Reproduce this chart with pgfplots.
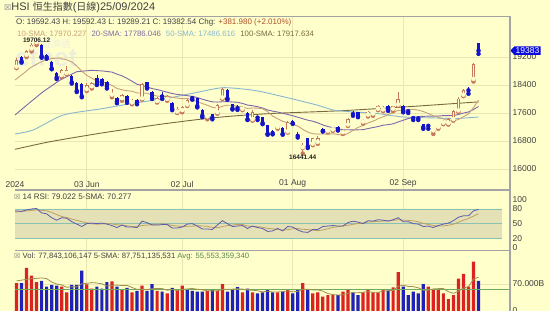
\documentclass[border=0pt]{standalone}
\usepackage{fontspec}
\setmainfont{Liberation Sans}
\newfontfamily\cjk{Noto Sans CJK TC}
\newfontfamily\dejavu{DejaVu Sans}
\usepackage{pgfplots}
\usepackage{pgfplotstable}
\pgfplotsset{compat=1.18}
\usetikzlibrary{shapes.symbols}

\definecolor{bg}{HTML}{FFFFCC}
\definecolor{gridc}{HTML}{EAE6B4}
\definecolor{bordc}{HTML}{A4A4A4}
\definecolor{txt}{HTML}{404040}
\definecolor{upc}{HTML}{C8785A}
\definecolor{dnc}{HTML}{1414C8}
\definecolor{vred}{HTML}{DD2222}
\definecolor{vblue}{HTML}{2020BB}
\definecolor{ma10}{HTML}{C8A07A}
\definecolor{ma20}{HTML}{8066A8}
\definecolor{ma50}{HTML}{88B8D0}
\definecolor{ma100}{HTML}{7A6A40}
\definecolor{chgc}{HTML}{B0502A}
\definecolor{bandc}{HTML}{E4E1B6}
\definecolor{refc}{HTML}{8CC0B0}
\definecolor{rsic}{HTML}{5A5AB0}
\definecolor{rsima}{HTML}{C0A060}
\definecolor{vma}{HTML}{A09050}
\definecolor{avgc}{HTML}{70A860}
\definecolor{tagc}{HTML}{0A0ADC}
\definecolor{wm}{HTML}{EEEEDD}

% i open high low close
\pgfplotstableread{
i o h l c
0 18900 19180 18880 19115
2 19240 19400 19200 19376
3 19420 19590 19360 19554
4 19600 19706.12 19540 19636
9 18660 18850 18620 18827
10 18720 18950 18700 18821
14 18260 18450 18230 18403
15 18340 18500 18300 18444
19 18100 18300 18050 18176
21 18000 18150 17950 18112
23 17880 17990 17850 17936
25 18000 18450 17980 18430
28 17920 18060 17900 18027
30 17980 18120 17950 18089
32 17620 17760 17600 17719
33 17660 17800 17620 17769
34 17820 18000 17800 17978
38 17480 17560 17420 17523
40 17600 17850 17580 17832
41 18020 18320 18000 18293
45 17700 17800 17680 17778
47 17400 17700 17380 17635
52 17180 17260 17150 17238
54 17050 17360 17040 17344
57 16600 16750 16441.44 16698
59 16700 16900 16680 16877
60 16750 16950 16720 16891
62 17070 17150 17050 17112
63 17110 17200 17090 17174
65 17030 17120 17000 17110
66 17250 17450 17230 17430
69 17330 17420 17300 17391
70 17530 17660 17500 17641
71 17560 17630 17520 17612
72 17700 17820 17680 17798
73 17680 17800 17650 17755
75 17700 17800 17650 17786
76 17820 18200 17800 17989
83 17080 17180 17000 17108
84 17180 17260 17150 17240
85 17300 17400 17280 17369
86 17290 17450 17270 17422
87 17400 17680 17380 17660
88 17650 18050 17630 18013
89 18100 18300 18080 18258
91 18550 19020 18500 19000.56
}\upt

\pgfplotstableread{
i o h l c
1 19200 19230 19040 19074
5 19530 19560 19180 19220
6 19260 19300 19150 19195
7 19050 19080 18850 18868
8 18740 18760 18570 18609
11 18650 18700 18440 18477
12 18470 18480 18200 18230
13 18420 18450 18050 18080
16 18600 18700 18400 18425
17 18560 18600 18420 18476
18 18500 18520 18300 18367
20 18030 18060 17880 17937
22 18080 18120 17890 17942
24 17980 18000 17850 17915
26 18480 18500 18300 18335
27 18200 18230 18000 18028
29 18100 18200 18000 18072
31 17900 17920 17680 17716
35 18060 18100 17980 18028
36 18030 18040 17760 17799
37 17700 17720 17480 17524
39 17560 17580 17420 17471
42 18250 18280 17980 18015
43 17850 17870 17700 17727
44 17760 17820 17690 17739
46 17600 17620 17400 17417
48 17500 17520 17400 17469
49 17480 17500 17280 17311
50 17250 17260 16980 17005
51 17080 17120 16990 17021
53 17180 17200 16980 17002
55 17370 17400 17290 17304
56 17000 17050 16900 16946
58 16880 16900 16600 16647
61 17150 17180 17070 17090
64 17200 17220 17100 17113
67 17600 17650 17520 17569
68 17620 17640 17480 17511
74 17800 17820 17660 17692
77 17800 17820 17620 17651
78 17670 17700 17600 17652
79 17470 17520 17400 17457
80 17460 17520 17400 17444
81 17280 17300 17150 17196
82 17250 17280 17150 17234
90 18250 18350 18150 18247
92 19592.43 19592.43 19289.21 19382.54
}\dnt

% volume in billions
\pgfplotstableread{
i v
0 72
2 112
3 92
4 75
9 63
10 48
14 69
15 58
19 77
21 57
23 48
25 66
28 52
30 46
32 57
33 66
38 52
40 52
41 70
45 48
47 48
52 48
54 57
57 72
59 46
60 48
61 37
62 41
63 41
65 50
66 57
69 48
70 57
71 48
72 48
73 57
75 61
76 101
82 63
83 57
84 54
85 46
86 31
87 41
88 84
89 96
90 63
91 128
}\volr

\pgfplotstableread{
i v
1 72
5 78
6 63
7 68
8 66
11 68
12 68
13 105
16 63
17 58
18 75
20 63
22 60
24 52
26 52
27 70
29 50
31 60
34 57
35 52
36 50
37 50
39 57
42 50
43 54
44 62
46 58
48 46
49 48
50 57
51 48
53 50
55 46
56 54
58 54
64 41
67 48
68 41
74 53
77 63
78 41
79 50
80 46
81 70
92 77.84
}\volb

\newcommand{\ticksize}{\fontsize{8.5}{9}\selectfont}
\newcommand{\infosize}{\fontsize{8}{9}\selectfont}

\pgfplotsset{
  candle/.style n args={2}{color=#1, draw=#1, only marks, mark=none,
    error bars/.cd, y dir=plus, y explicit, error mark=none,
    error bar style={draw=#1, color=#1, line width=#2}},
}

\begin{document}
\begin{tikzpicture}
\useasboundingbox (0pt,0pt) rectangle (550pt,-311pt);
\fill[bg] (0pt,0pt) rectangle (550pt,-311pt);
% watermark
\node[anchor=west, inner sep=0pt, text=wm, font={\cjk\fontsize{9.5}{10}\selectfont}] at (42pt,-44pt) {經濟通};
\node[anchor=west, inner sep=0pt, text=wm, font={\bfseries\fontsize{26}{26}\selectfont}] at (15pt,-58pt) {etnet};

% ---------------- main price panel ----------------
\begin{axis}[at={(15pt,-189pt)}, anchor=south west, scale only axis,
  width=495pt, height=173pt,
  xmin=-0.3, xmax=98.27, ymin=15428.6, ymax=20371.4,
  axis line style={draw=none}, major tick length=0pt,
  scaled ticks=false,
  /pgf/number format/assume math mode=true,
  xtick={14,33,55,77}, xticklabels={03 Jun,02 Jul,01 Aug,02 Sep},
  xticklabel style={anchor=south, inner sep=1.5pt, font=\ticksize, text=txt},
  ytick={16000,16800,17600,18400,19200},
  yticklabels={16000,16800,17600,18400,19200},
  yticklabel pos=right,
  yticklabel style={anchor=west, inner sep=2.5pt, font=\ticksize, text=txt},
  grid=major, major grid style={draw=gridc, line width=0.7pt},
  clip mode=individual]

% moving averages
\addplot[ma100, line width=0.9pt, smooth, tension=0.4] coordinates {
(-0.3,16563) (6.67,16780) (16.6,17020) (23.2,17163) (28.6,17277) (36.5,17420)
(43.1,17514) (51.5,17591) (64.8,17666) (78,17780) (92,17918)};
\addplot[ma50, line width=0.9pt, smooth, tension=0.4] coordinates {
(-0.3,17000) (3.3,17114) (9.3,17543) (16.6,17714) (23.2,17877) (30,18020)
(35.1,18163) (41.1,18323) (47.5,18243) (53.1,18066) (59.8,17829) (63,17686)
(66.4,17637) (71.5,17591) (77,17486) (83.7,17457) (87.7,17443) (92,17487)};
\addplot[ma20, line width=0.9pt] coordinates {
(-0.3,17543) (2.5,17880) (5.3,18209) (8.7,18543) (12,18780) (15,18820) (17.2,18800)
(19,18769) (20,18710) (21,18662) (22,18590) (23,18509) (24,18423) (25,18384)
(26,18341) (27,18299) (28,18269) (29,18232) (30,18195) (31,18157) (32,18131)
(33,18116) (34,18095) (35,18074) (36,18043) (37,17995) (38,17953) (39,17918)
(40,17912) (41,17921) (42,17925) (43,17915) (44,17906) (45,17873) (46,17827)
(47,17808) (48,17780) (49,17742) (50,17687) (51,17653) (52,17629) (53,17590)
(54,17559) (55,17522) (56,17480) (57,17438) (58,17395) (59,17365) (60,17318)
(61,17258) (62,17213) (63,17185) (64,17154) (65,17120) (66,17121) (67,17118)
(68,17120) (69,17124) (70,17155) (71,17185) (72,17213) (73,17251) (74,17268)
(75,17292) (76,17344) (77,17392) (78,17442) (79,17471) (80,17499) (81,17504)
(82,17510) (83,17507) (84,17513) (85,17526) (86,17526) (87,17530) (88,17556)
(89,17599) (90,17629) (91,17699) (92,17786)};
\addplot[ma10, line width=0.9pt] coordinates {
(-0.3,18543) (1.3,18720) (2.7,18886) (4.2,19010) (5.7,19114) (7.2,19160) (8.7,19171)
(9,19147) (10,19118) (11,19058) (12,18944) (13,18796) (14,18673) (15,18595)
(16,18518) (17,18479) (18,18455) (19,18390) (20,18302) (21,18265) (22,18236)
(23,18222) (24,18173) (25,18172) (26,18163) (27,18118) (28,18084) (29,18073)
(30,18089) (31,18049) (32,18027) (33,18010) (34,18016) (35,17976) (36,17923)
(37,17872) (38,17822) (39,17762) (40,17736) (41,17794) (42,17823) (43,17819)
(44,17795) (45,17770) (46,17732) (47,17743) (48,17738) (49,17722) (50,17639)
(51,17512) (52,17434) (53,17362) (54,17322) (55,17275) (56,17228) (57,17134)
(58,17052) (59,17008) (60,16997) (61,17004) (62,16991) (63,17008) (64,16985)
(65,16966) (66,17014) (67,17101) (68,17188) (69,17239) (70,17314) (71,17366)
(72,17435) (73,17493) (74,17551) (75,17619) (76,17674) (77,17683) (78,17697)
(79,17703) (80,17684) (81,17642) (82,17586) (83,17521) (84,17476) (85,17434)
(86,17377) (87,17378) (88,17414) (89,17494) (90,17575) (91,17755) (92,17970)};

% up candles (hollow)
\addplot[candle={upc}{0.7pt}]
  table[x=i, y=l, y error plus expr=\thisrow{h}-\thisrow{l}] {\upt};
\addplot[candle={upc}{3.4pt}]
  table[x=i, y=o, y error plus expr={max(\thisrow{c}-\thisrow{o},30)}] {\upt};
\addplot[candle={bg}{1.8pt}]
  table[x=i, y expr=\thisrow{o}+24, y error plus expr={max(\thisrow{c}-\thisrow{o}-48,0)}] {\upt};
% down candles (filled blue)
\addplot[candle={dnc}{0.7pt}]
  table[x=i, y=l, y error plus expr=\thisrow{h}-\thisrow{l}] {\dnt};
\addplot[candle={dnc}{3.4pt}]
  table[x=i, y=c, y error plus expr={max(\thisrow{o}-\thisrow{c},30)}] {\dnt};

% high / low markers
\addplot[only marks, mark=none, nodes near coords, point meta=explicit symbolic,
  nodes near coords style={font=\bfseries\fontsize{6.5}{7}\selectfont, anchor=south,
  yshift=-3pt, inner sep=0pt, text=black!85}] coordinates {(4,19706.12) [19706.12]};
\addplot[only marks, mark=none, nodes near coords, point meta=explicit symbolic,
  nodes near coords style={font=\bfseries\fontsize{6.5}{7}\selectfont, anchor=north,
  inner sep=1.5pt, text=black!85}] coordinates {(57,16441.44) [16441.44]};

\node[anchor=south, inner sep=1.5pt, font=\ticksize, text=txt] at (rel axis cs:0,0) {2024};
\node[signal, signal to=west, fill=tagc, text=white, inner sep=1.2pt, font=\ticksize,
  anchor=west] at (axis cs:98.27,19382.54) {19383};
\end{axis}

% ---------------- RSI panel ----------------
\begin{axis}[at={(15pt,-250pt)}, anchor=south west, scale only axis,
  width=495pt, height=59pt,
  xmin=-0.3, xmax=98.27, ymin=-4.1, ymax=116.8,
  axis line style={draw=none}, major tick length=0pt,
  scaled ticks=false,
  /pgf/number format/assume math mode=true,
  xtick={14,33,55,77}, xticklabels={},
  ytick={0,20,50,80,100}, yticklabels={0,20,50,80,100},
  yticklabel pos=right,
  yticklabel style={anchor=west, inner sep=2.5pt, font=\ticksize, text=txt},
  xmajorgrids, major grid style={draw=gridc, line width=0.7pt},
  clip mode=individual]
\addplot[draw=none, fill=bandc] coordinates {(-0.3,20) (96.7,20) (96.7,80) (-0.3,80) (-0.3,20)};
\addplot[refc, line width=0.8pt] coordinates {(-0.3,80) (96.7,80)};
\addplot[refc, line width=0.8pt] coordinates {(-0.3,50) (96.7,50)};
\addplot[refc, line width=0.8pt] coordinates {(-0.3,20) (96.7,20)};
\addplot[rsima, line width=0.8pt] coordinates {
(-0.3,74) (0,74) (1,75) (2,76) (3,77) (4,78) (5,77.2) (6,76.2) (7,73) (8,68.4) (9,64.6)
(10,62.4) (11,59.2) (12,56.6) (13,54) (14,51.6) (15,49.6) (16,48.8) (17,49.2) (18,50.2)
(19,49.4) (20,47.6) (21,47) (22,45.4) (23,44.2) (24,43.4) (25,46) (26,47) (27,47.8)
(28,48.6) (29,49.8) (30,48.4) (31,46.2) (32,45) (33,44.2) (34,44.4) (35,44.8) (36,45.6)
(37,45.2) (38,44.4) (39,42.2) (40,41.6) (41,43.8) (42,46) (43,47) (44,48.4) (45,48.2)
(46,45) (47,44) (48,43.6) (49,42.6) (50,40.2) (51,39.2) (52,38.2) (53,36.8) (54,37.6)
(55,39.4) (56,39.8) (57,38.4) (58,37.8) (59,36.6) (60,35.6) (61,37) (62,39.4) (63,42.2)
(64,43.6) (65,45) (66,46.6) (67,48.6) (68,50) (69,51) (70,53.2) (71,53.8) (72,54.4)
(73,55.2) (74,56.2) (75,56.6) (76,58) (77,57.2) (78,56.6) (79,55.6) (80,53.8) (81,50.2)
(82,48.4) (83,46) (84,45.2) (85,45.2) (86,46.6) (87,48.8) (88,53) (89,57) (90,60.4)
(91,65.4) (92,70.28)};
\addplot[rsic, line width=0.8pt] coordinates {
(-0.3,76) (0,76) (1,75) (2,78) (3,80) (4,81) (5,72) (6,70) (7,62) (8,57) (9,62) (10,61)
(11,54) (12,49) (13,44) (14,50) (15,51) (16,50) (17,51) (18,49) (19,46) (20,42) (21,47)
(22,43) (23,43) (24,42) (25,55) (26,52) (27,47) (28,47) (29,48) (30,48) (31,41) (32,41)
(33,43) (34,49) (35,50) (36,45) (37,39) (38,39) (39,38) (40,47) (41,56) (42,50) (43,44)
(44,45) (45,46) (46,40) (47,45) (48,42) (49,40) (50,34) (51,35) (52,40) (53,35) (54,44)
(55,43) (56,37) (57,33) (58,32) (59,38) (60,38) (61,44) (62,45) (63,46) (64,45) (65,45)
(66,52) (67,55) (68,53) (69,50) (70,56) (71,55) (72,58) (73,57) (74,55) (75,58) (76,62)
(77,54) (78,54) (79,50) (80,49) (81,44) (82,45) (83,42) (84,46) (85,49) (86,51) (87,56)
(88,63) (89,66) (90,66) (91,76) (92,79.02)};
\end{axis}

% ---------------- volume panel ----------------
\begin{axis}[at={(15pt,-311pt)}, anchor=south west, scale only axis,
  width=495pt, height=61pt,
  xmin=-0.3, xmax=98.27, ymin=0, ymax=158.15,
  axis line style={draw=none}, major tick length=0pt,
  scaled ticks=false,
  /pgf/number format/assume math mode=true,
  xtick={14,33,55,77}, xticklabels={},
  ytick={0,70}, yticklabels={0,70.000B},
  yticklabel pos=right,
  yticklabel style={anchor=west, inner sep=2.5pt, font=\ticksize, text=txt},
  grid=major, major grid style={draw=gridc, line width=0.7pt},
  clip mode=individual]
\addplot[ybar, bar width=3.2pt, bar shift=0pt, fill=vred, draw=none] table[x=i, y=v] {\volr};
\addplot[ybar, bar width=3.2pt, bar shift=0pt, fill=vblue, draw=none] table[x=i, y=v] {\volb};
\addplot[avgc, line width=0.8pt] coordinates {(-0.3,55.55) (98.27,55.55)};
\addplot[vma, line width=0.8pt] coordinates {
(0,78) (1,80) (2,82) (3,84) (4,84.6) (5,85.8) (6,84) (7,75.2) (8,70) (9,67.6) (10,61.6)
(11,62.6) (12,62.6) (13,70.4) (14,71.6) (15,73.6) (16,72.6) (17,70.6) (18,64.6) (19,66.2)
(20,67.2) (21,66) (22,66.4) (23,61) (24,56) (25,56.6) (26,55.6) (27,57.6) (28,58.4)
(29,58) (30,54) (31,55.6) (32,53) (33,55.8) (34,57.2) (35,58.4) (36,56.4) (37,55)
(38,52.2) (39,52.2) (40,52.2) (41,56.2) (42,56.2) (43,56.6) (44,57.6) (45,56.8) (46,54.4)
(47,54) (48,52.4) (49,49.6) (50,51.4) (51,49.4) (52,49.4) (53,50.2) (54,52) (55,49.8)
(56,51) (57,55.8) (58,56.6) (59,54.4) (60,54.8) (61,51.4) (62,45.2) (63,42.6) (64,41.6)
(65,42) (66,46) (67,47.4) (68,47.4) (69,48.8) (70,50.2) (71,48.4) (72,48.4) (73,51.6)
(74,52.6) (75,53.4) (76,64) (77,67) (78,63.8) (79,63.2) (80,60.2) (81,54) (82,54)
(83,57.2) (84,58) (85,58) (86,50.2) (87,45.8) (88,51.2) (89,59.6) (90,63) (91,82.4)
(92,87.75)};
\end{axis}

% ---------------- frame and separators ----------------
\draw[bordc, line width=1pt] (15pt,-16pt) -- (510pt,-16pt);
\draw[bordc, line width=1.2pt] (510pt,-16pt) -- (510pt,-311pt);
\draw[bordc, line width=2pt] (15pt,-189.5pt) -- (510pt,-189.5pt);
\draw[bordc, line width=1.2pt] (15pt,-250.5pt) -- (510pt,-250.5pt);

% ---------------- texts ----------------
\node[anchor=west, inner sep=0pt, text=txt, font=\fontsize{11}{12}\selectfont] at (4pt,-7.5pt)
  {{\dejavu\fontsize{8}{9}\selectfont\textcolor{gray}{☒}}HSI {\cjk\fontsize{10}{11}\selectfont 恒生指數}({\cjk\fontsize{10}{11}\selectfont 日線})25/09/2024};
\node[anchor=west, inner sep=0pt, text=txt, font=\infosize] at (16pt,-22.5pt)
  {O: 19592.43 H: 19592.43 L: 19289.21 C: 19382.54 Chg: \textcolor{chgc}{+381.980 (+2.010\%)}};
\node[anchor=west, inner sep=0pt, font=\fontsize{7.8}{9}\selectfont] at (17pt,-34pt)
  {\textcolor{ma10}{10-SMA: 17970.227}\hspace{5pt}\textcolor{ma20}{20-SMA: 17786.046}\hspace{5pt}\textcolor{ma50}{50-SMA: 17486.616}\hspace{5pt}\textcolor{ma100}{100-SMA: 17917.634}};
\node[anchor=west, inner sep=0pt, text=txt, font=\infosize] at (14pt,-197pt)
  {{\dejavu\fontsize{7}{8}\selectfont\textcolor{gray}{☒}} 14 RSI: 79.022 5-SMA: 70.277};
\node[anchor=west, inner sep=0pt, text=txt, font=\fontsize{7.7}{9}\selectfont] at (14pt,-257pt)
  {{\dejavu\fontsize{7}{8}\selectfont\textcolor{gray}{☒}} Vol: 77,843,106,147 5-SMA: 87,751,135,531 \textcolor{avgc!80!black}{Avg: 55,553,359,340}};
\end{tikzpicture}
\end{document}
